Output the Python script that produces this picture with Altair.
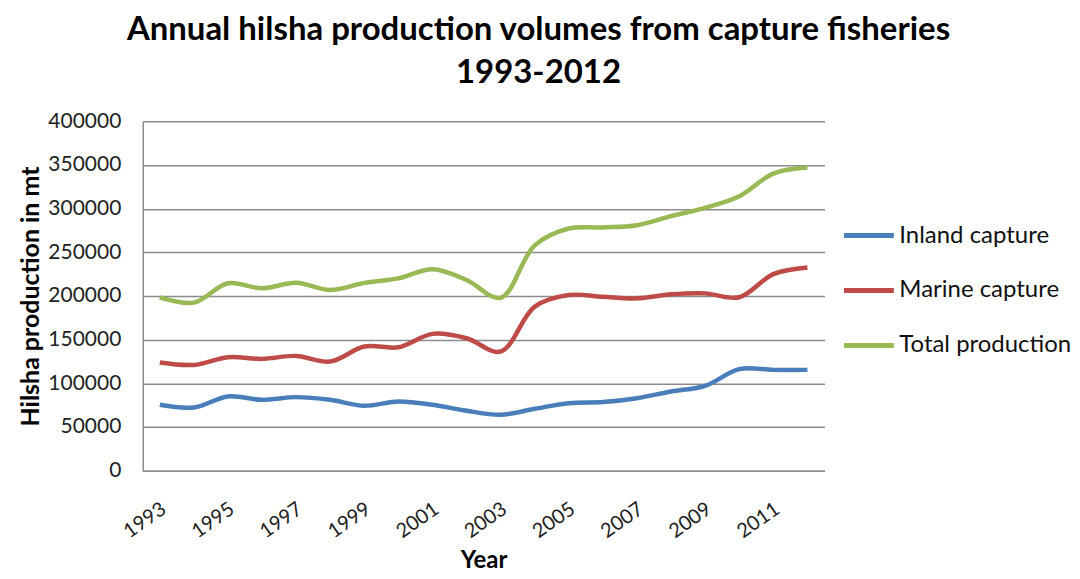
import altair as alt
import pandas as pd

years = list(range(1993, 2013))
inland = [75400, 72400, 85000, 81100, 84200, 81100, 74300, 79200, 75400, 68600,
          64000, 70800, 77300, 78500, 83000, 90600, 97100, 116200, 115400, 115400]
marine = [123800, 121100, 129900, 128000, 131400, 124900, 142100, 141300, 156600, 151600,
          136400, 187800, 201100, 199200, 197300, 201900, 203000, 198500, 225100, 232700]
total = [198500, 192400, 214500, 208800, 215200, 206900, 215000, 220200, 230500, 218300,
         198000, 258000, 277300, 278500, 281100, 291400, 301000, 314300, 340200, 347000]
series_names = ["Inland capture", "Marine capture", "Total production"]
series_colors = ["#4A7EBB", "#BE4B48", "#98B954"]
y_ticks = [0, 50000, 100000, 150000, 200000, 250000, 300000, 350000, 400000]
x_label_years = [1993, 1995, 1997, 1999, 2001, 2003, 2005, 2007, 2009, 2011]

rows = []
for name, vals in zip(series_names, [inland, marine, total]):
    for yr, v in zip(years, vals):
        rows.append({"Year": yr, "Series": name, "Value": v})
df = pd.DataFrame(rows)

FONT = "Lato"

chart = alt.Chart(df).mark_line(strokeWidth=4.5, interpolate="catmull-rom").encode(
    x=alt.X("Year:O",
            scale=alt.Scale(padding=0.5),
            axis=alt.Axis(title="Year", values=x_label_years, labelAngle=-35,
                          labelFontSize=20, labelFont=FONT, labelColor="#222",
                          labelPadding=28, labelOffset=-2, ticks=False, grid=False,
                          domainColor="#8c8c8c", domainWidth=1.5,
                          titleFont=FONT, titleFontSize=24, titleFontWeight="bold",
                          titleColor="#000", titlePadding=7)),
    y=alt.Y("Value:Q",
            scale=alt.Scale(domain=[0, 400000], nice=False),
            axis=alt.Axis(title="Hilsha production in mt", values=y_ticks, format="d",
                          labelFontSize=21, labelFont=FONT, labelColor="#222",
                          labelPadding=22, ticks=False, grid=True,
                          gridColor="#8c8c8c", gridWidth=1.5,
                          domainColor="#8c8c8c", domainWidth=1.5,
                          titleFont=FONT, titleFontSize=25, titleFontWeight="bold",
                          titleColor="#000", titlePadding=4)),
    color=alt.Color("Series:N",
                    scale=alt.Scale(domain=series_names, range=series_colors),
                    legend=alt.Legend(title=None, orient="none", legendX=700, legendY=87,
                                      symbolType="stroke", symbolSize=2500,
                                      symbolStrokeWidth=5, labelFontSize=24,
                                      labelFont=FONT, labelColor="#111", labelLimit=400,
                                      labelOffset=3, rowPadding=15)),
).properties(
    width=683,
    height=350,
    padding={"left": 135, "top": 113, "right": 248, "bottom": 102},
    autosize=alt.AutoSizeParams(type="none"),
    title=alt.TitleParams(
        text=["Annual hilsha production volumes from capture fisheries", "1993-2012"],
        font=FONT, fontSize=33, fontWeight="bold", color="#000",
        lineHeight=43, anchor="middle", dx=55, offset=20),
).configure_view(stroke=None)

chart.save("out.html", embed_options={"renderer": "svg", "actions": False})
